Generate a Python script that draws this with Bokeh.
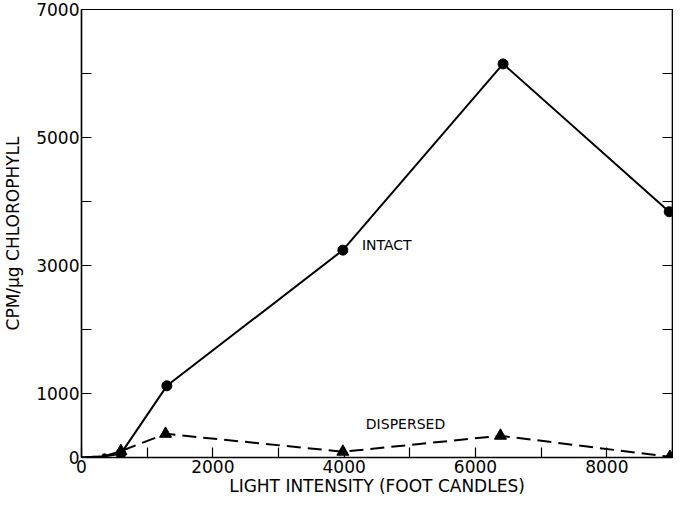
from bokeh.plotting import figure
from bokeh.models import Range1d, LinearAxis, FixedTicker, Label
from bokeh.embed import file_html
from bokeh.resources import INLINE

# ---- data ----
intact_x = [0, 350, 600, 1300, 3980, 6420, 8950]
intact_y = [0, 20, 60, 1120, 3240, 6150, 3840]
dispersed_x = [0, 350, 600, 1280, 3980, 6380, 8960]
dispersed_y = [0, 20, 100, 370, 90, 340, 10]

x_ticks = [0, 1000, 2000, 3000, 4000, 5000, 6000, 7000, 8000, 9000]
x_labels = ["0", "", "2000", "", "4000", "", "6000", "", "8000", ""]
y_ticks = [0, 1000, 2000, 3000, 4000, 5000, 6000, 7000]
y_labels = ["0", "1000", "", "3000", "", "5000", "", "7000"]
x_title = "LIGHT INTENSITY (FOOT CANDLES)"
y_title = "CPM/μg CHLOROPHYLL"

FONT = "DejaVu Sans"

p = figure(width=673, height=498, output_backend="svg", toolbar_location=None,
           x_range=Range1d(0, 9000), y_range=Range1d(0, 7000),
           min_border_left=74, min_border_right=1, min_border_top=9, min_border_bottom=36)
p.grid.visible = False
p.outline_line_color = "black"
p.outline_line_width = 1.2
p.background_fill_color = "white"
p.border_fill_color = "white"

def style(ax, labels, ticks, fs="17px"):
    ax.ticker = FixedTicker(ticks=ticks)
    ax.major_label_overrides = {t: l for t, l in zip(ticks, labels)}
    ax.major_tick_in = 10
    ax.major_tick_out = 0
    ax.minor_tick_in = 0
    ax.minor_tick_out = 0
    ax.axis_line_color = "black"
    ax.axis_line_width = 1.5
    ax.major_tick_line_width = 1.2
    ax.major_label_text_font = FONT
    ax.major_label_text_font_size = fs
    ax.major_label_text_color = "black"
    ax.axis_label_text_font = FONT
    ax.axis_label_text_font_size = fs
    ax.axis_label_text_font_style = "normal"
    ax.axis_label_text_color = "black"

style(p.xaxis[0], x_labels, x_ticks, "17px")
style(p.yaxis[0], y_labels, y_ticks, "17px")
p.xaxis[0].axis_label = x_title
p.xaxis[0].major_label_standoff = 2
p.xaxis[0].axis_label_standoff = 0
p.xaxis[0].major_label_text_line_height = 0.5
p.xaxis[0].axis_label_text_line_height = 0.5
p.yaxis[0].axis_label = y_title
p.yaxis[0].major_label_standoff = 2
p.yaxis[0].axis_label_standoff = 10

right = LinearAxis()
style(right, [""] * len(y_ticks), y_ticks)
right.major_label_text_font_size = "0px"
right.major_label_standoff = 0
p.add_layout(right, "right")

# lines
p.line(intact_x, intact_y, line_color="black", line_width=2)
p.line(dispersed_x, dispersed_y, line_color="black", line_width=2, line_dash="14 7")

# markers
p.scatter(intact_x[2:], intact_y[2:], marker="circle", size=10, color="black")
p.scatter(dispersed_x[2:], dispersed_y[2:], marker="triangle", size=12, color="black")
p.scatter(intact_x[1:2], intact_y[1:2], marker="circle", size=5, color="black")

p.add_layout(Label(x=4270, y=3320, text="INTACT", text_font=FONT, text_font_size="14px",
                   text_color="black", text_baseline="middle"))
p.add_layout(Label(x=4330, y=518, text="DISPERSED", text_font=FONT, text_font_size="14px",
                   text_color="black", text_baseline="middle"))

open("out.html", "w").write(file_html(p, INLINE))
